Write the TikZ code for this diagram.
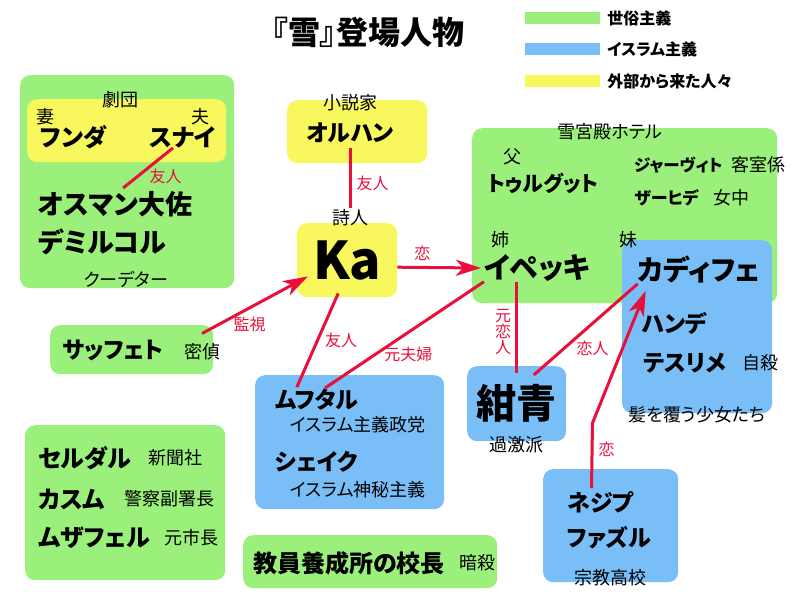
\documentclass[tikz,border=0pt]{standalone}
\usepackage{fontspec}
\setmainfont{Noto Sans CJK JP}[RawFeature=+palt]
\usetikzlibrary{
arrows.meta,
positioning
}
\definecolor{secular}{HTML}{9BF07B}
\definecolor{islamic}{HTML}{7ABEF8}
\definecolor{outsider}{HTML}{F8F85E}
\definecolor{relred}{HTML}{E8103A}

\begin{document}
\begin{tikzpicture}[
x=1pt, y=-1pt,
gbox/.style={rectangle, rounded corners=10pt, anchor=north west, inner sep=0pt, fill=secular},
bbox/.style={rectangle, rounded corners=10pt, anchor=north west, inner sep=0pt, fill=islamic},
ybox/.style={rectangle, rounded corners=10pt, anchor=north west, inner sep=0pt, fill=outsider},
person/.style={inner sep=0pt, font=\bfseries\fontsize{23}{26}\selectfont},
role/.style={inner sep=0pt, font=\fontsize{18}{20}\selectfont},
legbar/.style={rectangle, inner sep=0pt, minimum width=75pt, minimum height=12pt},
legtext/.style={inner sep=0pt, font=\bfseries\fontsize{16}{18}\selectfont},
rel/.style={draw=relred, line width=3pt},
arrow/.style={rel, -{Stealth[length=25pt,width=16pt,inset=7pt]}},
rellbl/.style={inner sep=0pt, text=relred, font=\fontsize{16}{18}\selectfont}
]
\useasboundingbox (0,0) rectangle (800,600);

% title and legend
\node[inner sep=0pt, font=\bfseries\fontsize{32}{36}\selectfont] (title) at (368,32) {『雪』登場人物};
\node[legbar, fill=secular] (legsec) at (562.5,18) {};
\node[legbar, fill=islamic] (legisl) at (562.5,49) {};
\node[legbar, fill=outsider] (legout) at (562.5,81) {};
\node[legtext, right=7pt of legsec] (legsectxt) {世俗主義};
\node[legtext, right=7pt of legisl] (legisltxt) {イスラム主義};
\node[legtext, right=7pt of legout] (legouttxt) {外部から来た人々};

% boxes
\node[gbox, minimum width=214pt, minimum height=213pt] (coupbox) at (20,75) {};
\node[ybox, minimum width=199pt, minimum height=63pt] (troupebox) at (27,99) {};
\node[ybox, minimum width=140pt, minimum height=63pt] (orhanbox) at (287,100) {};
\node[ybox, minimum width=100pt, minimum height=74pt,
      font=\bfseries\fontsize{52}{56}\selectfont] (ka) at (297,223) {Ka};
\node[gbox, minimum width=305pt, minimum height=175pt] (hotelbox) at (472,128) {};
\node[bbox, minimum width=150pt, minimum height=173pt] (veilbox) at (622,240) {};
\node[bbox, minimum width=99pt, minimum height=75pt,
      font=\bfseries\fontsize{40}{44}\selectfont] (konjo) at (467,366) {紺青};
\node[bbox, minimum width=135pt, minimum height=113pt] (nejibox) at (543,469) {};
\node[bbox, minimum width=189pt, minimum height=134pt] (islambox) at (255,375) {};
\node[gbox, minimum width=163pt, minimum height=49pt] (saffetbox) at (50,325) {};
\node[gbox, minimum width=200pt, minimum height=155pt] (townbox) at (25,425) {};
\node[gbox, minimum width=254pt, minimum height=53pt] (schoolbox) at (243,535) {};

% coup group
\node[role] (troupe) at (120,100) {劇団};
\node[role] (wife) at (45,117) {妻};
\node[role] (husband) at (200,117) {夫};
\node[person, anchor=west, font=\bfseries\fontsize{24}{26}\selectfont] (funda) at (40,137) {フンダ};
\node[person, font=\bfseries\fontsize{24}{26}\selectfont] (sunai) at (183,137) {スナイ};
\node[person, anchor=west, font=\bfseries\fontsize{27}{28}\selectfont] (osman) at (38,204) {オスマン大佐};
\node[person, anchor=west, font=\bfseries\fontsize{27}{28}\selectfont] (demirkol) at (38,242) {デミルコル};
\node[role] (coup) at (126,279) {クーデター};

% novelist and poet
\node[role] (novelist) at (350,103) {小説家};
\node[person] (orhan) at (350,133) {オルハン};
\node[role] (poet) at (350,218) {詩人};

% hotel
\node[role] (hotel) at (610,132) {雪宮殿ホテル};
\node[role] (father) at (512,157) {父};
\node[person, font=\bfseries\fontsize{21}{22}\selectfont] (turgut) at (543,183) {トゥルグット};
\node[person, anchor=west, font=\bfseries\fontsize{16.5}{20}\selectfont] (javit) at (634,165) {ジャーヴィト};
\node[role] (clerk) at (758,165) {客室係};
\node[person, anchor=west, font=\bfseries\fontsize{17}{20}\selectfont] (zahide) at (634,198) {ザーヒデ};
\node[role] (maid) at (731,198) {女中};
\node[role] (elder) at (500,240) {姉};
\node[person, font=\bfseries\fontsize{29}{30}\selectfont] (ipek) at (537,268) {イペッキ};

% headscarf girls
\node[role] (younger) at (628,240) {妹};
\node[person, font=\bfseries\fontsize{28}{30}\selectfont] (kadife) at (699,270) {カディフェ};
\node[person, anchor=west] (hande) at (642,323) {ハンデ};
\node[person, anchor=west] (tesrime) at (643,363) {テスリメ};
\node[role] (suicide) at (760,363) {自殺};
\node[role] (veil) at (697,415) {髪を覆う少女たち};

% islamists
\node[role] (radical) at (516,445) {過激派};
\node[person, anchor=west] (nejip) at (567,502) {ネジプ};
\node[person, anchor=west] (fazil) at (567,538) {ファズル};
\node[role] (school) at (610,578) {宗教高校};
\node[person, anchor=west] (muhtar) at (275,400) {ムフタル};
\node[role, anchor=west] (party) at (290,425) {イスラム主義政党};
\node[person, anchor=west] (sheikh) at (275,462) {シェイク};
\node[role, anchor=west] (sufi) at (290,490) {イスラム神秘主義};

% secular people
\node[person, anchor=west] (saffet) at (62,350) {サッフェト};
\node[role] (spy) at (202,352) {密偵};
\node[person, anchor=west, font=\bfseries\fontsize{24}{26}\selectfont] (serdar) at (38,458) {セルダル};
\node[role] (paper) at (175,458) {新聞社};
\node[person, anchor=west, font=\bfseries\fontsize{24}{26}\selectfont] (kasim) at (38,499) {カスム};
\node[role] (police) at (169,499) {警察副署長};
\node[person, anchor=west, font=\bfseries\fontsize{24}{26}\selectfont] (muzaffer) at (38,538) {ムザフェル};
\node[role] (mayor) at (191,538) {元市長};
\node[person, anchor=west, font=\bfseries\fontsize{24}{26}\selectfont] (director) at (253,563) {教員養成所の校長};
\node[role] (murder) at (477,563) {暗殺};

% relations
\draw[rel] ([xshift=-10pt]sunai.south) -- node[rellbl, pos=0.7, right=10pt]{友人} ([xshift=8pt,yshift=3pt]osman.north);
\draw[rel, shorten <=5pt, shorten >=2pt] (orhan.south) -- node[rellbl, pos=0.6, right=5pt]{友人} (poet.north);
\draw[arrow] ([yshift=-7pt]ka.east) -- node[rellbl, pos=0.3, above=5pt]{恋} ([xshift=-3pt]ipek.west);
\draw[arrow] ([yshift=10pt]spy.north) -- node[rellbl, pos=0.45, below=8pt]{監視} ([xshift=11pt,yshift=21pt]ka.south west);
\draw[rel] ([xshift=-9pt,yshift=4pt]ka.south) -- node[rellbl, pos=0.5, right=6pt]{友人} ([xshift=-20pt,yshift=2pt]muhtar.north);
\draw[rel] ([xshift=8pt,yshift=1pt]muhtar.north) -- node[rellbl, pos=0.5, xshift=4pt, yshift=-20pt]{元夫婦} (ipek.south west);
\draw[rel] (ipek.south -| konjo.north) -- node[rellbl, pos=0.55, left=4pt, align=center, font=\fontsize{16}{16}\selectfont]{元\\恋\\人} ([yshift=-7pt]konjo.north);
\draw[rel] ([xshift=17pt,yshift=-9pt]konjo.north) -- node[rellbl, pos=0.5, xshift=7pt, yshift=-19pt]{恋人} (kadife.south west);
\draw[arrow] ([xshift=-9pt,yshift=3pt]nejip.north) -- node[rellbl, pos=0.6, right=5pt]{恋} ++(1,-65) -- ([xshift=8pt,yshift=-7pt]kadife.south west);

\end{tikzpicture}
\end{document}
